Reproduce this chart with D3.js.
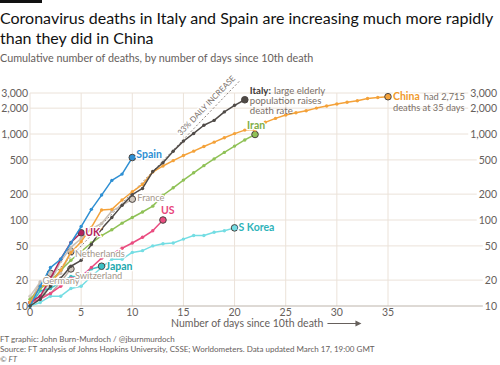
<html>
<head>
<meta charset="utf-8"/>
<script src="https://d3js.org/d3.v7.min.js"></script>
<style>
  body { margin: 0; background: #fff; }
  text { font-family: Lato, "Open Sans", sans-serif; }
</style>
</head>
<body>
<div id="v"></div>
<script type="text/javascript">
// cumulative deaths, index = days since 10th death
var spain = [10, 17, 28, 35, 54, 84, 133, 195, 289, 342, 533];
var italy = [10, 12, 17, 21, 29, 34, 52, 79, 107, 148, 197, 233, 366, 463, 631, 827, 1016, 1266, 1441, 1809, 2158, 2503];
var china = [11, 17, 18, 26, 42, 56, 82, 131, 133, 171, 213, 259, 361, 425, 490, 562, 632, 717, 804, 904, 1011, 1111, 1116, 1368, 1520, 1662, 1765, 1863, 2002, 2114, 2236, 2345, 2442, 2592, 2663, 2715];
var iran = [12, 16, 19, 26, 34, 43, 54, 66, 77, 92, 107, 124, 145, 194, 237, 291, 354, 429, 514, 611, 724, 853, 988];
var us = [11, 12, 14, 17, 21, 22, 28, 36, 40, 47, 54, 63, 75, 100];
var uk = [11, 13, 21, 35, 55, 71];
var skorea = [10, 11, 13, 13, 16, 17, 22, 28, 35, 35, 42, 44, 50, 53, 54, 60, 66, 66, 72, 75, 81];
var japan = [10, 15, 16, 19, 22, 22, 27, 29];
var france = [11, 19, 19, 33, 48, 61, 79, 91, 127, 148, 175];
var netherlands = [10, 12, 20, 24, 43];
var switzerland = [11, 13, 14, 19, 27];
var germany = [13, 19, 24];

var yTicks = [10, 20, 50, 100, 200, 500, 1000, 2000, 3000];
var xTicks = [0, 5, 10, 15, 20, 25, 30, 35];
var guideStart = 12, guideRate = 0.33, guideDays = [0, 20.5];

// drawing order: muted countries behind
var series = [
  {name: "Germany", values: germany, color: "#d3c9bf", label: "#a3968a", bold: false, dx: -8, dy: 11, fill: "#cfc6bd"},
  {name: "Switzerland", values: switzerland, color: "#b7aea6", label: "#a3968a", bold: false, dx: 4, dy: 10.5, fill: "#cfc6bd"},
  {name: "Netherlands", values: netherlands, color: "#c7bdb4", label: "#a3968a", bold: false, dx: 4, dy: 5, fill: "#cfc6bd"},
  {name: "France", values: france, color: "#c7bdb4", label: "#a3968a", bold: false, dx: 5, dy: 2, fill: "#cfc6bd"},
  {name: "S Korea", values: skorea, color: "#74dde3", label: "#2fb3b9", bold: true, dx: 4, dy: 3, fill: "#74dde3"},
  {name: "Japan", values: japan, color: "#3cc2c6", label: "#21a9ae", bold: true, dx: 4, dy: 3.5, fill: "#3cc2c6"},
  {name: "US", values: us, color: "#ea4c80", label: "#e8457b", bold: true, dx: -2, dy: -6, fill: "#ea4c80"},
  {name: "UK", values: uk, color: "#b3245c", label: "#b3245c", bold: true, dx: 4, dy: 3, fill: "#b3245c"},
  {name: "Iran", values: iran, color: "#8fc156", label: "#7fae45", bold: true, dx: -8, dy: -5, fill: "#8fc156"},
  {name: "China", values: china, color: "#f4a23a", label: "#f09a2c", bold: true, dx: 5, dy: 3, fill: "#f4a23a"},
  {name: "Spain", values: spain, color: "#2e8fd3", label: "#2e8fd3", bold: true, dx: 4, dy: 0, fill: "#2e8fd3"},
  {name: "Italy", values: italy, color: "#4f4a47", label: null, bold: true, dx: 0, dy: 0, fill: "#4f4a47"}
];

var width = 500, height = 365;
var svg = d3.select("#v").append("svg")
  .attr("width", width)
  .attr("height", height);

var x = d3.scaleLinear().domain([0, 35]).range([30, 388]);
var y = d3.scaleLog().domain([10, 3000]).range([306, 93]);
var fmt = d3.format(",");

// header
svg.append("rect").attr("x", 0).attr("y", 0).attr("width", 42).attr("height", 3).attr("fill", "#111");
svg.append("text").attr("x", 0).attr("y", 24).style("font-size", "16px").attr("fill", "#111")
  .text("Coronavirus deaths in Italy and Spain are increasing much more rapidly");
svg.append("text").attr("x", 0).attr("y", 44).style("font-size", "16px").attr("fill", "#111")
  .text("than they did in China");
svg.append("text").attr("x", 0).attr("y", 62).style("font-size", "10.8px").attr("fill", "#66605c")
  .text("Cumulative number of deaths, by number of days since 10th death");

// grid
var grid = svg.append("g");
grid.selectAll(".vgrid").data(xTicks).enter().append("line")
  .attr("x1", function(d) { return x(d); }).attr("x2", function(d) { return x(d); })
  .attr("y1", y(3000)).attr("y2", y(10))
  .attr("stroke", "#ebe2d9").attr("stroke-width", 1);

var rightLabels = svg.append("g").selectAll("text").data(yTicks).enter().append("text")
  .attr("x", 497).attr("y", function(d) { return y(d) + 4; })
  .attr("text-anchor", "end").style("font-size", "10.5px").attr("fill", "#66605c")
  .text(function(d) { return fmt(d); });

grid.selectAll(".hgrid").data(yTicks).enter().append("line")
  .attr("x1", 30)
  .attr("x2", function(d, i) { return 497 - rightLabels.nodes()[i].getComputedTextLength() - 2; })
  .attr("y1", function(d) { return y(d); }).attr("y2", function(d) { return y(d); })
  .attr("stroke", function(d) { return d === 10 ? "#bdb4ab" : "#ebe2d9"; })
  .attr("stroke-width", 1);

svg.append("g").selectAll("text").data(yTicks).enter().append("text")
  .attr("x", 28).attr("y", function(d) { return y(d) + 4; })
  .attr("text-anchor", "end").style("font-size", "10.5px").attr("fill", "#66605c")
  .text(function(d) { return fmt(d); });

svg.append("g").selectAll("text").data(xTicks).enter().append("text")
  .attr("x", function(d) { return x(d); }).attr("y", 316)
  .attr("text-anchor", "middle").style("font-size", "10.5px").attr("fill", "#66605c")
  .text(function(d) { return d; });

var xTitle = svg.append("text").attr("x", 171).attr("y", 327)
  .style("font-size", "10.5px").attr("fill", "#66605c")
  .text("Number of days since 10th death");
var ax = 171 + xTitle.node().getComputedTextLength() + 4;
svg.append("line").attr("x1", ax).attr("x2", ax + 30).attr("y1", 323.5).attr("y2", 323.5)
  .attr("stroke", "#66605c").attr("stroke-width", 1);
svg.append("path").attr("d", "M" + (ax + 28) + ",320.5 L" + (ax + 34) + ",323.5 L" + (ax + 28) + ",326.5 Z")
  .attr("fill", "#66605c");

// 33% guide
var guide = d3.range(guideDays[0], guideDays[1] + 0.01, 0.5).map(function(d) { return [d, guideStart * Math.pow(1 + guideRate, d)]; });
svg.append("path").datum(guide)
  .attr("d", d3.line().x(function(d) { return x(d[0]); }).y(function(d) { return y(d[1]); }))
  .attr("fill", "none").attr("stroke", "#8d8580").attr("stroke-width", 1).attr("stroke-dasharray", "2,2");
var gEnd = guide[guide.length - 1];
var ang = Math.atan2(y(gEnd[1]) - y(guide[0][1]), x(gEnd[0]) - x(guide[0][0])) * 180 / Math.PI;
svg.append("text")
  .attr("transform", "translate(" + (x(gEnd[0]) - 4) + "," + (y(gEnd[1]) - 2) + ") rotate(" + ang + ")")
  .attr("text-anchor", "end").style("font-size", "8px").attr("fill", "#7a716b")
  .attr("stroke", "#fff").attr("stroke-width", 2.5).attr("paint-order", "stroke")
  .text("33% DAILY INCREASE");

// lines
var line = d3.line().x(function(d, i) { return x(i); }).y(function(d) { return y(d); });
var lines = svg.append("g");
series.forEach(function(s) {
  var g = lines.append("g");
  g.append("path").datum(s.values).attr("d", line)
    .attr("fill", "none").attr("stroke", s.color).attr("stroke-width", 1.5).attr("stroke-linejoin", "round");
  g.selectAll("circle").data(s.values.slice(0, -1)).enter().append("circle")
    .attr("cx", function(d, i) { return x(i); }).attr("cy", function(d) { return y(d); })
    .attr("r", 1.7).attr("fill", s.color);
  var last = s.values.length - 1;
  g.append("circle").attr("cx", x(last)).attr("cy", y(s.values[last])).attr("r", 3.3)
    .attr("fill", s.fill).attr("stroke", "#4a4440").attr("stroke-width", 1);
});

// labels
var labels = svg.append("g");
series.forEach(function(s) {
  if (!s.label) return;
  var last = s.values.length - 1;
  labels.append("text")
    .attr("x", x(last) + s.dx).attr("y", y(s.values[last]) + s.dy)
    .style("font-size", s.bold ? "10.5px" : "9.3px").style("font-weight", s.bold ? "bold" : "normal")
    .attr("fill", s.label).attr("stroke", "#fff").attr("stroke-width", 2.5).attr("paint-order", "stroke")
    .text(s.name);
});

// annotations
var iEnd = italy.length - 1;
var ix = x(iEnd) + 5, iy = y(italy[iEnd]);
var itBold = labels.append("text").attr("x", ix).attr("y", iy - 6)
  .style("font-size", "9.6px").style("font-weight", "bold").attr("fill", "#3d3835").text("Italy:");
labels.append("text").attr("x", ix + itBold.node().getComputedTextLength() + 3).attr("y", iy - 6)
  .style("font-size", "9.6px").attr("fill", "#7a6f68").text("large elderly");
labels.append("text").attr("x", ix).attr("y", iy + 4)
  .style("font-size", "9.6px").attr("fill", "#7a6f68").text("population raises");
labels.append("text").attr("x", ix).attr("y", iy + 14)
  .style("font-size", "9.6px").attr("fill", "#7a6f68").text("death rate");

var cEnd = china.length - 1;
var chinaLabel = labels.selectAll("text").filter(function() { return this.textContent === "China"; });
var cw = chinaLabel.node().getComputedTextLength();
labels.append("text").attr("x", x(cEnd) + 5 + cw + 4).attr("y", y(china[cEnd]) + 3)
  .style("font-size", "9.3px").attr("fill", "#7a6f68").text("had " + fmt(china[cEnd]));
labels.append("text").attr("x", x(cEnd) + 5).attr("y", y(china[cEnd]) + 14)
  .style("font-size", "9.3px").attr("fill", "#7a6f68").text("deaths at " + cEnd + " days");

// footer
var foot = ["FT graphic: John Burn-Murdoch / @jburnmurdoch",
  "Source: FT analysis of Johns Hopkins University, CSSE; Worldometers. Data updated March 17, 19:00 GMT",
  "\u00a9 FT"];
svg.append("g").selectAll("text").data(foot).enter().append("text")
  .attr("x", 0).attr("y", function(d, i) { return 342 + i * 10; })
  .style("font-size", "8px").attr("fill", "#66605c")
  .style("font-style", function(d, i) { return i === 2 ? "italic" : "normal"; })
  .text(function(d) { return d; });
</script>
</body>
</html>
